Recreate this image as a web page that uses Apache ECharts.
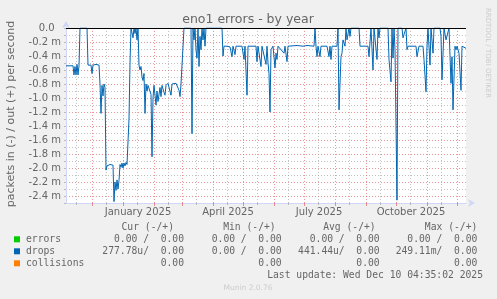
<!DOCTYPE html>
<html><head><meta charset="utf-8">
<script src="https://cdn.jsdelivr.net/npm/echarts@6/dist/echarts.min.js"></script>
<style>html,body{margin:0;padding:0;background:#f0f0f0;}#c{width:497px;height:299px;}</style>
</head><body><div id="c"></div>
<script>
// ---- data ----
const startUTC = Date.UTC(2024, 10, 5);   // first day shown (400-day window ending Dec 10 2025)
const dayCount = 401;
const labelDates = ['2025-01-16', '2025-04-16', '2025-07-16', '2025-10-16'];
const labelTexts = ['January 2025', 'April 2025', 'July 2025', 'October 2025'];
// drops, inbound (negative side), in milli-packets/s; x = day index from start
const dropDay = [0,1,4,7,8,9,10,11,12,13,14,21,22,25,26,27,28,30,33,34,35,36,37,38,39,40,41,42,43,44,45,46,47,48,49,50,51,52,53,54,55,56,57,58,59,60,61,62,63,64,65,66,67,68,69,70,71,72,73,74,75,76,77,78,79,80,81,82,84,85,86,87,88,90,91,92,94,95,96,98,99,100,101,102,104,105,106,108,110,111,113,114,115,116,117,118,125,126,127,128,129,130,131,132,133,134,135,136,137,138,139,140,156,157,158,161,164,166,167,169,170,176,178,179,181,182,190,191,192,195,196,198,200,201,202,203,204,205,207,209,210,211,212,218,219,221,222,231,237,241,248,249,250,251,252,254,255,261,263,264,265,266,271,272,273,275,276,277,279,280,281,283,284,285,293,294,302,303,304,305,307,308,310,311,312,313,314,322,323,325,326,327,328,329,331,332,336,337,338,340,341,342,350,351,353,357,358,360,361,362,364,365,367,368,374,375,376,378,380,381,383,385,386,387,389,390,391,393,395,396,398,400];
const dropIn = [-0.54,-0.54,-0.54,-0.54,-0.67,-0.55,-0.67,-0.52,-0.67,-0.54,0,0,-0.53,-0.53,-0.65,-0.53,-0.54,-0.52,-0.53,-0.8,-1.22,-0.82,-0.97,-0.8,-0.85,-2.03,-1.97,-1.96,-1.98,-1.95,-1.96,-1.93,-1.96,-2.48,-2.2,-2.32,-2.17,-2.3,-2.18,-1.95,-1.99,-1.93,-2.0,-1.93,-1.97,-1.92,-1.95,-1.94,-1.3,-0.5,0,-0.02,-0.14,0,-0.08,0,-0.17,0,-0.53,-0.6,-0.55,-0.7,-0.75,-0.65,-1.22,-0.8,-0.9,-0.82,-0.8,-0.95,-1.84,-1.0,-0.82,-1.1,-0.9,-1.05,-0.85,-0.98,-0.82,-0.92,-0.96,-0.82,-0.8,-0.79,-0.81,-0.96,-0.8,-0.79,-0.79,-0.81,-0.89,-0.98,-0.8,-0.79,-0.79,0,0,-1.51,0,-0.17,0,-0.31,-0.43,0,-0.55,-0.12,-0.31,0,-0.17,0,-0.26,0,0,-0.4,-0.26,-0.26,-0.27,-0.41,-0.26,-0.38,-0.26,-0.26,-0.45,-0.26,-0.96,-0.26,-0.26,-0.48,-0.26,-0.55,-0.26,-0.27,-0.52,-0.26,-0.5,-0.65,-1.2,-0.31,-0.26,-0.57,-0.36,-0.45,-0.26,-0.36,-0.26,-0.48,-0.26,-0.25,-0.26,-0.25,-0.26,0,-0.26,-0.41,-0.26,-0.41,-0.26,-0.26,-0.41,-0.26,-0.45,-0.26,-0.26,0,-1.17,-0.41,-0.36,-0.17,-0.26,0,-0.17,0,-0.12,0,0,-0.26,-0.26,-0.41,-0.43,0,-0.6,0,0,-0.45,0,-0.14,0,0,-0.45,-0.77,0,-0.43,0,-0.31,-2.46,0,0,-0.14,-0.14,0,-0.31,-0.26,-0.26,-0.41,-0.26,-0.26,-0.45,-0.91,-0.26,0,-0.53,0,-0.36,0,0,-0.12,-0.74,0,-0.17,-0.17,0,-0.79,-0.41,-1.17,-0.26,-0.31,-0.26,-0.36,-0.89,-0.26,-0.26,-0.29];
const legendRows = [
  {name: 'errors', color: '#00CC00', cur: '0.00 /  0.00', min: '0.00 /  0.00', avg: '0.00 /  0.00', max: '0.00 /  0.00'},
  {name: 'drops', color: '#0066B3', cur: '277.78u/  0.00', min: '0.00 /  0.00', avg: '441.44u/  0.00', max: '249.11m/  0.00'},
  {name: 'collisions', color: '#FF8000', cur: '0.00', min: '0.00', avg: '0.00', max: '0.00'}
];
const headers = ['Cur (-/+)', 'Min (-/+)', 'Avg (-/+)', 'Max (-/+)'];

// ---- build ----
const categories = [];
for (let i = 0; i < dayCount; i++) categories.push(new Date(startUTC + i * 86400000).toISOString().slice(0, 10));
const seriesData = dropDay.map((d, i) => [d, dropIn[i]]);
const labelMap = {}; labelDates.forEach((d, i) => labelMap[d] = labelTexts[i]);

const FONT = '#666666';
const MGRID = 'rgba(222,79,79,0.6)';
const GRID = 'rgba(143,143,143,0.55)';
const AXIS = '#CFD6F8';

const chart = echarts.init(document.getElementById('c'), null, {renderer: 'canvas'});

const g = [];
function txt(x, y, text, font, fill, align, extra) {
  return Object.assign({type: 'text', x: x, y: y, silent: true,
    style: {x: 0, y: 0, text: text, font: font, fill: fill, align: align, verticalAlign: 'middle',
            textAlign: align, textVerticalAlign: 'middle'}}, extra || {});
}
g.push(txt(248, 19.5, 'eno1 errors - by year', '12.5px "DejaVu Sans"', FONT, 'center'));
g.push(txt(11, 114, 'packets in (-) / out (+) per second', '11px "DejaVu Sans"', FONT, 'center', {rotation: Math.PI / 2}));
g.push(txt(487.5, 53, 'RRDTOOL / TOBI OETIKER', '7px "DejaVu Sans"', '#cccccc', 'center', {rotation: -Math.PI / 2}));
const MONO = '9.7px "DejaVu Sans Mono"';
const hdrX = [174, 275.7, 375.7, 477.3];
const valX = [184, 281.7, 379.7, 477.3];
headers.forEach((h, i) => g.push(txt(hdrX[i], 227.3, h, MONO, FONT, 'right')));
legendRows.forEach((r, k) => {
  const y = 239.3 + k * 12;
  g.push({type: 'rect', silent: true, shape: {x: 14, y: y - 3, width: 6, height: 6}, style: {fill: r.color}});
  g.push(txt(26, y, r.name, MONO, FONT, 'left'));
  [r.cur, r.min, r.avg, r.max].forEach((v, i) => g.push(txt(valX[i], y, v, MONO, FONT, 'right')));
});
g.push(txt(483, 275, 'Last update: Wed Dec 10 04:35:02 2025', MONO, FONT, 'right'));
g.push(txt(248, 288.5, 'Munin 2.0.76', '7.5px "DejaVu Sans"', '#cccccc', 'center'));

chart.setOption({
  animation: false,
  backgroundColor: '#f0f0f0',
  grid: {left: 66, right: 31, top: 28, bottom: 96, show: true, backgroundColor: '#ffffff', borderWidth: 0},
  xAxis: [{
    type: 'category', data: categories, boundaryGap: false, position: 'bottom',
    axisLine: {show: true, onZero: false, lineStyle: {color: AXIS, width: 1}, symbol: ['none', 'arrow'], symbolSize: [6, 7], symbolOffset: [0, 9]},
    axisTick: {show: true, interval: (i, v) => v.slice(8) === '01', length: 3, lineStyle: {color: MGRID}},
    axisLabel: {interval: (i, v) => labelMap[v] !== undefined, formatter: v => labelMap[v] || '', color: FONT,
                fontFamily: 'DejaVu Sans', fontSize: 10, margin: 4, hideOverlap: false},
    splitLine: {show: true, interval: (i, v) => v.slice(8) === '01', lineStyle: {color: MGRID, type: [1, 2], width: 1}}
  }, {
    type: 'category', data: categories, boundaryGap: false, position: 'bottom',
    axisLine: {show: false, onZero: false}, axisLabel: {show: false},
    axisTick: {show: true, interval: (i, v) => v.slice(8) === '15', length: 2, lineStyle: {color: GRID}},
    splitLine: {show: true, interval: (i, v) => v.slice(8) === '15', lineStyle: {color: GRID, type: [1, 2], width: 1}}
  }],
  yAxis: {
    type: 'value', min: -2.5, max: 0, interval: 0.1,
    axisLine: {show: true, lineStyle: {color: AXIS, width: 1}, symbol: ['none', 'arrow'], symbolSize: [6, 7], symbolOffset: [0, 7]},
    axisTick: {show: true, length: 2, lineStyle: {color: GRID}},
    axisLabel: {color: FONT, fontFamily: 'DejaVu Sans', fontSize: 10, margin: 5,
      formatter: v => { const k = Math.round(v * 10); if (k % 2 !== 0) return ''; if (k === 0) return '0.0\u00a0\u00a0'; return (k / 10).toFixed(1) + ' m'; }},
    splitLine: {show: true, lineStyle: {color: [GRID, MGRID], type: [1, 2], width: 1}}
  },
  series: [{
    type: 'line', name: 'drops', xAxisIndex: 0, data: seriesData, showSymbol: false, symbol: 'none',
    lineStyle: {color: '#0066B3', width: 1}, itemStyle: {color: '#0066B3'}, z: 3,
    markLine: {silent: true, symbol: ['none', 'none'], label: {show: false}, animation: false,
               lineStyle: {color: '#000000', type: 'solid', width: 1}, data: [{yAxis: 0}]}
  }],
  graphic: g
});
</script></body></html>
